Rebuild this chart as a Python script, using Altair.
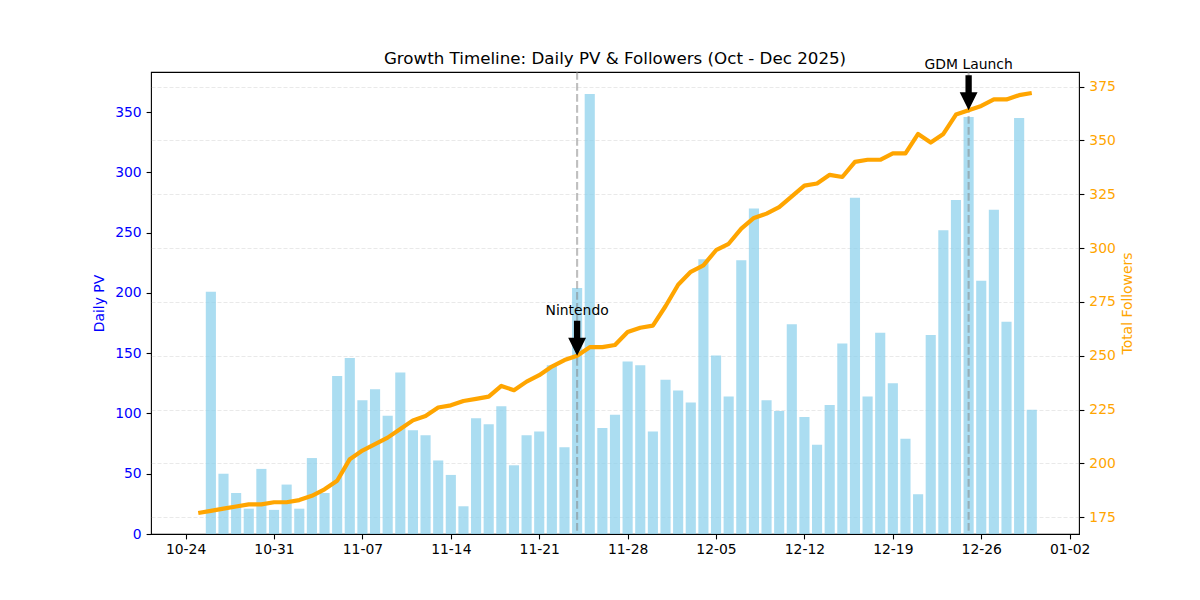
import altair as alt
import pandas as pd

# ---- data ----
start_date = "2025-10-25"
daily_pv = [0, 201, 50, 34, 21, 54, 20, 41, 21, 63, 34, 131, 146, 111, 120, 98, 134,
            86, 82, 61, 49, 23, 96, 91, 106, 57, 82, 85, 140, 72, 204, 365, 88, 99,
            143, 140, 85, 128, 119, 109, 228, 148, 114, 227, 270, 111, 102, 174, 97,
            74, 107, 158, 279, 114, 167, 125, 79, 33, 165, 252, 277, 346, 210, 269,
            176, 345, 103]
total_followers = [177, 178, 179, 180, 181, 181, 182, 182, 183, 185,
                   188, 192, 202, 206, 209, 212, 216, 220, 222, 226,
                   227, 229, 230, 231, 236, 234, 238, 241, 245, 248,
                   250, 254, 254, 255, 261, 263, 264, 273, 283, 289,
                   292, 299, 302, 309, 314, 316, 319, 324, 329, 330,
                   334, 333, 340, 341, 341, 344, 344, 353, 349, 353,
                   362, 364, 366, 369, 369, 371, 372]
event_dates = ["2025-11-24", "2025-12-25"]
event_labels = ["Nintendo", "GDM Launch"]
x_tick_dates = ["2025-10-24", "2025-10-31", "2025-11-07", "2025-11-14", "2025-11-21",
                "2025-11-28", "2025-12-05", "2025-12-12", "2025-12-19", "2025-12-26",
                "2026-01-02"]
pv_ticks = [0, 50, 100, 150, 200, 250, 300, 350]
follower_ticks = [175, 200, 225, 250, 275, 300, 325, 350, 375]

dates = pd.date_range(start_date, periods=len(daily_pv), freq="D")
date_str = [d.strftime("%Y-%m-%dT00:00:00") for d in dates]
df = pd.DataFrame({"date": date_str, "pv": daily_pv, "followers": total_followers})

ev_followers = [total_followers[list(dates.strftime("%Y-%m-%d")).index(d)] for d in event_dates]
events = pd.DataFrame({"date": [d + "T00:00:00" for d in event_dates],
                       "label": event_labels, "followers": ev_followers})

def dt(s, hours=0, minutes=0):
    y, m, d = [int(v) for v in s.split("-")]
    return alt.DateTime(year=y, month=m, date=d, hours=hours, minutes=minutes)

FONT = "DejaVu Sans"
FS = 13.9

x_enc = alt.X(
    "date:T",
    scale=alt.Scale(domain=[dt("2025-10-21", 6, 14), dt("2026-01-02", 17, 46)],
                    nice=False, padding=0),
    axis=alt.Axis(values=[dt(s) for s in x_tick_dates], format="%m-%d", title=None,
                  grid=False, domain=False, tickColor="black", tickSize=4.9, tickWidth=1.1,
                  labelPadding=3.5, labelColor="black", labelFontSize=FS, labelFont=FONT),
)

y_left = alt.Y(
    "pv:Q",
    scale=alt.Scale(domain=[0, 383.25], nice=False, zero=False),
    axis=alt.Axis(orient="left", values=pv_ticks, title="Daily PV", grid=False, domain=False,
                  tickColor="black", tickSize=4.9, tickWidth=1.1, labelPadding=4.9,
                  labelColor="blue", titleColor="blue", labelFontSize=FS, titleFontSize=FS,
                  labelFont=FONT, titleFont=FONT, titleFontWeight="normal", titlePadding=8),
)

y_right = alt.Y(
    "followers:Q",
    scale=alt.Scale(domain=[167.25, 381.75], nice=False, zero=False),
    axis=alt.Axis(orient="right", values=follower_ticks, title="Total Followers",
                  grid=True, gridDash=[4, 2], gridColor="#b0b0b0", gridOpacity=0.35,
                  gridWidth=0.8, domain=False, tickColor="black", tickSize=4.9,
                  tickWidth=1.1, labelPadding=4.9, labelColor="orange", titleColor="orange",
                  labelFontSize=FS, titleFontSize=FS, labelFont=FONT, titleFont=FONT,
                  titleFontWeight="normal", titleAngle=270, titleBaseline="top",
                  titlePadding=5),
)

bars = alt.Chart(df).mark_bar(color="#87ceeb", opacity=0.7, size=10.13).encode(
    x=x_enc, y=y_left)

rules = alt.Chart(events).mark_rule(color="gray", opacity=0.5, strokeWidth=2.1,
                                    strokeDash=[7.7, 3.3]).encode(x=x_enc)

line = alt.Chart(df).mark_line(color="#ffa500", strokeWidth=4.2, strokeJoin="round").encode(
    x=x_enc, y=y_right)

ARROW = ("M-0.18,-2 L0.18,-2 L0.18,-1.03 L0.51,-1.03 L0,0 "
         "L-0.51,-1.03 L-0.18,-1.03 Z")
arrows = alt.Chart(events).mark_point(shape=ARROW, size=1225, filled=True, color="black",
                                      opacity=1, strokeWidth=0).encode(x=x_enc, y=y_right)

labels = alt.Chart(events).mark_text(dy=-41, baseline="alphabetic", align="center",
                                     font=FONT, fontSize=FS, color="black").encode(
    x=x_enc, y=y_right, text="label:N")

inner = alt.layer(line, arrows, labels)

chart = alt.layer(bars, rules, inner).resolve_scale(y="independent").properties(
    width=928, height=462,
    title=alt.TitleParams("Growth Timeline: Daily PV & Followers (Oct - Dec 2025)",
                          font=FONT, fontSize=16.7, fontWeight="normal", color="black",
                          anchor="middle", baseline="alphabetic", offset=7.5, dy=30),
    autosize=alt.AutoSizeParams(type="none"),
    padding={"left": 143, "top": 64, "right": 113, "bottom": 58},
).configure(font=FONT).configure_view(stroke="black", strokeWidth=1.1)

chart.save("out.html", embed_options={"renderer": "svg", "actions": False})
